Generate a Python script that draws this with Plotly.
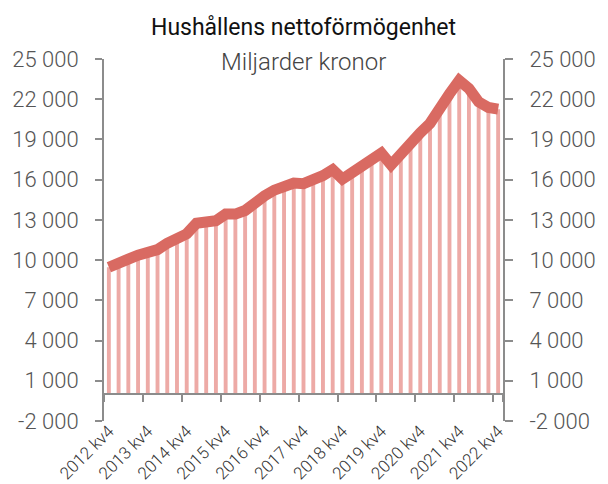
import plotly.graph_objects as go

# Data: household net wealth, billion SEK, quarterly 2012 kv4 - 2022 kv4
years = list(range(2012, 2023))
quarters = ["2012 kv4"] + [f"{y} kv{q}" for y in range(2013, 2023) for q in (1, 2, 3, 4)]
values = [9470, 9850, 10070, 10370, 10590, 10780, 11260, 11580, 11960, 12750,
          12930, 12930, 13430, 13430, 13700, 14350, 14790, 15220, 15600, 15750,
          15700, 15900, 16300, 16750, 16050, 16530, 17030, 17480, 17980, 17100,
          18000, 18800, 19500, 20200, 21400, 22400, 23400, 22800, 21800, 21380,
          21260]
label_quarters = [f"{y} kv4" for y in years]
y_ticks = [-2000, 1000, 4000, 7000, 10000, 13000, 16000, 19000, 22000, 25000]
y_ticktext = ["-2 000", "1 000", "4 000", "7 000", "10 000", "13 000",
              "16 000", "19 000", "22 000", "25 000"]

bar_color = "#EDAAA6"
line_color = "#D96A62"
axis_color = "#8C8C8C"
font_family = "Roboto"

n = len(quarters)
yr = [-2000, 25000]
zero_frac = (0 - yr[0]) / (yr[1] - yr[0])
boundaries = [i - 0.5 for i in range(0, n, 4)] + [n - 0.5]

fig = go.Figure()
fig.add_trace(go.Bar(x=quarters, y=values, marker=dict(color=bar_color, line=dict(width=0)),
                     showlegend=False, hoverinfo="skip"))
fig.add_trace(go.Scatter(x=quarters, y=values, mode="lines",
                         line=dict(color=line_color, width=11), showlegend=False))
# invisible traces so the right axis and the zero-line axis are drawn
fig.add_trace(go.Scatter(x=quarters, y=values, yaxis="y2", mode="lines",
                         line=dict(width=0), opacity=0, showlegend=False, hoverinfo="skip"))
fig.add_trace(go.Scatter(x=[boundaries[0], boundaries[-1]], y=[0, 0], xaxis="x2", mode="lines",
                         line=dict(width=0), opacity=0, showlegend=False, hoverinfo="skip"))

fig.update_layout(
    width=608, height=484,
    margin=dict(l=104, r=92, t=59, b=63),
    plot_bgcolor="white", paper_bgcolor="white",
    bargap=0.6,
    font=dict(family=font_family, color="#444444"),
    title=dict(text="Hushållens nettoförmögenhet", x=0.5, xref="paper", xanchor="center",
               y=1 - 27 / 484, yref="container", yanchor="middle",
               font=dict(family=font_family, size=23, color="#111111")),
    xaxis=dict(type="category", range=[-0.5, n - 0.5], tickmode="array",
               tickvals=label_quarters, ticktext=label_quarters, tickangle=-45,
               ticks="", showline=False, showgrid=False, zeroline=False,
               ticklabelstandoff=-4,
               tickfont=dict(family=font_family, size=17, color="#333333", weight=300),
               automargin=False),
    xaxis2=dict(overlaying="x", anchor="free", position=zero_frac, range=[-0.5, n - 0.5],
                tickmode="array", tickvals=boundaries, showticklabels=False,
                ticks="outside", ticklen=7, tickwidth=2, tickcolor=axis_color,
                showline=True, linecolor=axis_color, linewidth=2, showgrid=False,
                zeroline=False),
    yaxis=dict(range=yr, tickmode="array", tickvals=y_ticks, ticktext=y_ticktext,
               ticks="outside", ticklen=7, tickwidth=2, tickcolor=axis_color,
               showline=True, linecolor=axis_color, linewidth=2, showgrid=False,
               zeroline=False, ticklabelstandoff=12,
               tickfont=dict(family=font_family, size=22, color="#555555", weight=300)),
    yaxis2=dict(overlaying="y", side="right", range=yr, tickmode="array",
                tickvals=y_ticks, ticktext=y_ticktext,
                ticks="outside", ticklen=8, tickwidth=2, tickcolor=axis_color,
                showline=True, linecolor=axis_color, linewidth=2, showgrid=False,
                zeroline=False, ticklabelstandoff=12,
                tickfont=dict(family=font_family, size=22, color="#555555", weight=300)),
    annotations=[dict(text="Miljarder kronor", x=0.5, xref="paper", y=(421 - 62) / 362,
                      yref="paper", xanchor="center", yanchor="middle", showarrow=False,
                      font=dict(family=font_family, size=24, color="#444444", weight=300))],
)

fig.write_html("out.html")
